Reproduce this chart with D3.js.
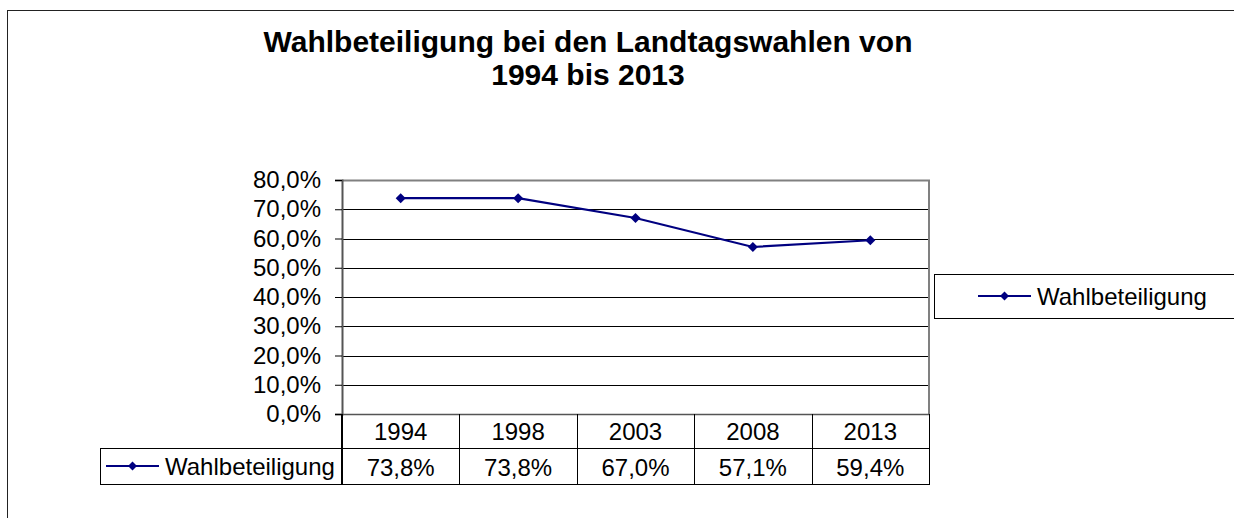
<!DOCTYPE html>
<html>
<head>
<meta charset="utf-8">
<script src="https://cdn.jsdelivr.net/npm/d3@7"></script>
<style>
  body { margin: 0; background: #fff; }
  svg { font-family: "Liberation Sans", Arial, sans-serif; }
</style>
</head>
<body>
<div id="chart"></div>
<script>
var years = ["1994", "1998", "2003", "2008", "2013"];
var turnout = [0.738, 0.738, 0.670, 0.571, 0.594];
var yTicks = [0, 0.1, 0.2, 0.3, 0.4, 0.5, 0.6, 0.7, 0.8];
var seriesName = "Wahlbeteiligung";
var titleLines = ["Wahlbeteiligung bei den Landtagswahlen von", "1994 bis 2013"];

var width = 1234;
var height = 518;
var navy = "#000080";

var svg = d3.select("#chart")
    .append("svg")
    .attr("width", width)
    .attr("height", height);

// chart area border
svg.append("rect")
    .attr("x", 7.5).attr("y", 10.5)
    .attr("width", 1240).attr("height", 520)
    .attr("fill", "none")
    .attr("stroke", "#222")
    .attr("stroke-width", 1);

// title
svg.selectAll(".title")
    .data(titleLines)
    .enter()
    .append("text")
    .attr("x", 588)
    .attr("y", function(d, i) { return 52 + i * 33; })
    .attr("text-anchor", "middle")
    .style("font-weight", "bold")
    .style("font-size", "30px")
    .text(function(d) { return d; });

var x = d3.scaleBand().domain(years).range([342, 929]);
var y = d3.scaleLinear().domain([0, 0.8]).range([414, 180]);
var fmt = function(v) { return d3.format(".1f")(v * 100).replace(".", ",") + "%"; };

// gridlines
svg.selectAll(".grid")
    .data(yTicks.slice(1, -1))
    .enter()
    .append("line")
    .attr("x1", 342).attr("x2", 929)
    .attr("y1", function(d) { return Math.round(y(d)) + 0.5; })
    .attr("y2", function(d) { return Math.round(y(d)) + 0.5; })
    .attr("stroke", "#000")
    .attr("stroke-width", 1);

// plot border (top / right)
svg.append("path")
    .attr("d", "M342," + (y(0.8) + 0.5) + "H929V414")
    .attr("fill", "none")
    .attr("stroke", "#808080")
    .attr("stroke-width", 2);

// y axis
var yAxis = d3.axisLeft(y)
    .tickValues(yTicks)
    .tickSize(7)
    .tickPadding(14)
    .tickFormat(fmt);

var gy = svg.append("g")
    .attr("transform", "translate(342,0)")
    .call(yAxis);
gy.select(".domain").attr("stroke", "#555").attr("stroke-width", 2);
gy.selectAll(".tick line").attr("stroke", "#000");
gy.selectAll(".tick text")
    .style("font-size", "24px")
    .style("font-family", "'Liberation Sans', Arial, sans-serif")
    .attr("fill", "#000");

// data table
var row1Top = 414, row1Bot = 448, row2Bot = 484;
svg.append("line")
    .attr("x1", 342).attr("x2", 929)
    .attr("y1", row1Top + 0.5).attr("y2", row1Top + 0.5)
    .attr("stroke", "#555").attr("stroke-width", 1.5);
svg.append("rect")
    .attr("x", 100.5).attr("y", row1Bot + 0.5)
    .attr("width", 929 - 100).attr("height", row2Bot - row1Bot)
    .attr("fill", "none").attr("stroke", "#000").attr("stroke-width", 1);
svg.append("line")
    .attr("x1", 929.5).attr("x2", 929.5)
    .attr("y1", row1Top).attr("y2", row1Bot)
    .attr("stroke", "#000");
svg.selectAll(".vcell")
    .data(years.slice(1))
    .enter()
    .append("line")
    .attr("x1", function(d) { return Math.round(x(d)) + 0.5; })
    .attr("x2", function(d) { return Math.round(x(d)) + 0.5; })
    .attr("y1", row1Top).attr("y2", row2Bot)
    .attr("stroke", "#000");
svg.append("line")
    .attr("x1", 342).attr("x2", 342)
    .attr("y1", row1Top).attr("y2", row2Bot + 1)
    .attr("stroke", "#000").attr("stroke-width", 2);

svg.selectAll(".yearLabel")
    .data(years)
    .enter()
    .append("text")
    .attr("x", function(d) { return x(d) + x.bandwidth() / 2; })
    .attr("y", 440)
    .attr("text-anchor", "middle")
    .style("font-size", "24px")
    .text(function(d) { return d; });

svg.selectAll(".valLabel")
    .data(turnout)
    .enter()
    .append("text")
    .attr("x", function(d, i) { return x(years[i]) + x.bandwidth() / 2; })
    .attr("y", 476)
    .attr("text-anchor", "middle")
    .style("font-size", "24px")
    .text(function(d) { return fmt(d); });

// square diamond marker, half-diagonal r
function diamond(r) {
    return "M0," + (-r) + "L" + r + ",0L0," + r + "L" + (-r) + ",0Z";
}

function legendKey(g, x0, x1, cy) {
    g.append("line")
        .attr("x1", x0).attr("x2", x1)
        .attr("y1", cy).attr("y2", cy)
        .attr("stroke", navy).attr("stroke-width", 2);
    g.append("path")
        .attr("d", diamond(4.5))
        .attr("transform", "translate(" + ((x0 + x1) / 2) + "," + cy + ")")
        .attr("fill", navy);
}

legendKey(svg, 106, 159, 466);
svg.append("text")
    .attr("x", 165).attr("y", 475)
    .style("font-size", "24px")
    .text(seriesName);

// line series
var line = d3.line()
    .x(function(d, i) { return x(years[i]) + x.bandwidth() / 2; })
    .y(function(d) { return y(d); });

svg.append("path")
    .datum(turnout)
    .attr("d", line)
    .attr("fill", "none")
    .attr("stroke", navy)
    .attr("stroke-width", 2.2);

svg.selectAll(".marker")
    .data(turnout)
    .enter()
    .append("path")
    .attr("d", diamond(5))
    .attr("transform", function(d, i) {
        return "translate(" + (x(years[i]) + x.bandwidth() / 2) + "," + y(d) + ")";
    })
    .attr("fill", navy);

// legend
svg.append("rect")
    .attr("x", 934.5).attr("y", 274.5)
    .attr("width", 320).attr("height", 44)
    .attr("fill", "none").attr("stroke", "#000").attr("stroke-width", 1);
legendKey(svg, 978, 1031, 296);
svg.append("text")
    .attr("x", 1037).attr("y", 305)
    .style("font-size", "24px")
    .text(seriesName);
</script>
</body>
</html>
